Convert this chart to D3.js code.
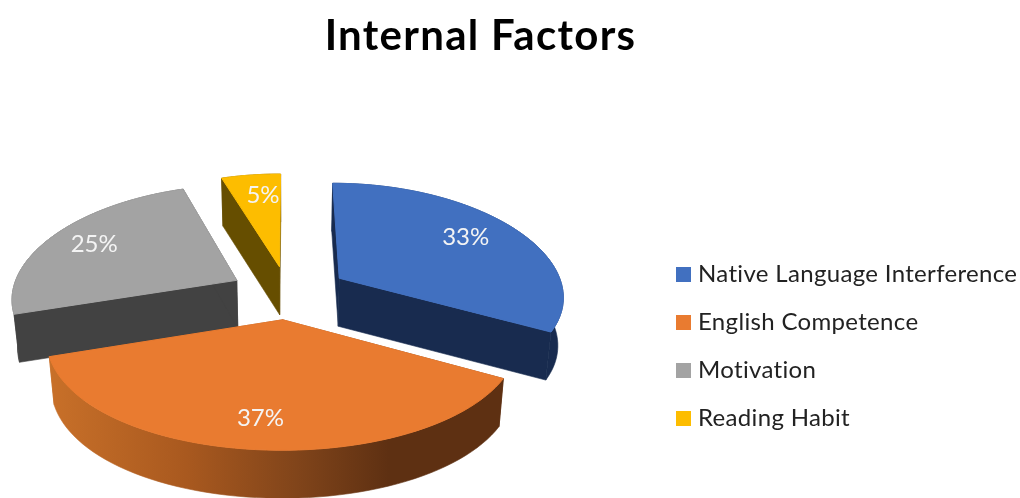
<!DOCTYPE html>
<html>
<head>
<meta charset="utf-8">
<script src="https://cdn.jsdelivr.net/npm/d3@7"></script>
<style>
    html, body { margin: 0; padding: 0; background: #fff; }
    svg { display: block; filter: blur(0.45px); }
    text { font-family: Lato, "Open Sans", sans-serif; }
</style>
</head>
<body>
<div id="chart"></div>
<script>
// Data
const categories = ["Native Language Interference", "English Competence", "Motivation", "Reading Habit"];
const values = [33, 37, 25, 5];
const topColors = ["#4170c0", "#e97b30", "#a3a3a3", "#fdbd00"];
const wallColors = ["#182b4f", "url(#orangeWall)", "#424242", "#664e00"];
const title = "Internal Factors";

const width = 1020, height = 498;

// Fake 3D: pie lies on the ground, x right, y toward the viewer, radius = 1
const centerX = 288, centerY = 293;
const scaleX = 225, scaleY = 109;
const perspX = 0.15, perspY = 0.114;
const depth = 48, depthShrink = 0.98;
const explode = [0.27, 0.24, 0.26, 0.25];
const labelRadius = [0.75, 0.78, 0.78, 0.76];
const labelTurn = [-0.056, 0.01, 0.01, 0.04]; // radians, labels are not quite on the mid line

function project(x, y) {
    return [centerX + scaleX * x / (1 - perspX * y), centerY + scaleY * y / (1 - perspY * y)];
}
function lower(p) { // same point on the underside of the pie
    return [centerX + (p[0] - centerX) * depthShrink, p[1] + depth];
}

const svg = d3.select("#chart").append("svg")
    .attr("width", width)
    .attr("height", height);

const grad = svg.append("defs").append("linearGradient")
    .attr("id", "orangeWall")
    .attr("gradientUnits", "userSpaceOnUse")
    .attr("x1", 50).attr("x2", 502).attr("y1", 0).attr("y2", 0);
[[0, "#c87029"], [0.3, "#a9591f"], [0.55, "#80441a"], [0.75, "#5e3012"], [1, "#5e3012"]].forEach(s => {
    grad.append("stop").attr("offset", s[0]).attr("stop-color", s[1]);
});

svg.append("text")
    .attr("x", 480.5)
    .attr("y", 50)
    .attr("text-anchor", "middle")
    .attr("font-size", 42)
    .attr("font-weight", 700)
    .attr("letter-spacing", 1.3)
    .attr("fill", "#000")
    .text(title);

const slices = d3.pie().sort(null).value(d => d)(values);
const line = d3.line();

slices.forEach((s, i) => {
    const mid = (s.startAngle + s.endAngle) / 2;
    s.offX = explode[i] * Math.sin(mid);
    s.offY = -explode[i] * Math.cos(mid);
    const ground = (a, r) => project(s.offX + r * Math.sin(a), s.offY - r * Math.cos(a));
    s.apex = ground(0, 0);
    s.rim = d3.range(0, 61).map(k => ground(s.startAngle + (s.endAngle - s.startAngle) * k / 60, 1));
    s.label = ground(mid + labelTurn[i], labelRadius[i]);
});

// back to front
const order = [3, 2, 0, 1];
const pie = svg.append("g");

order.forEach(i => {
    const s = slices[i];
    const g = pie.append("g");
    const first = s.rim[0], last = s.rim[s.rim.length - 1];
    const walls = [
        s.rim.concat(s.rim.map(lower).reverse()),
        [s.apex, first, lower(first), lower(s.apex)],
        [s.apex, last, lower(last), lower(s.apex)]
    ];
    g.selectAll("path.wall")
        .data(walls)
        .enter()
        .append("path")
            .attr("class", "wall")
            .attr("d", d => line(d) + "Z")
            .attr("fill", wallColors[i])
            .attr("stroke", wallColors[i]) // hides the seams between wall pieces
            .attr("stroke-width", 0.6);
    g.append("path")
        .attr("d", line([s.apex].concat(s.rim)) + "Z")
        .attr("fill", topColors[i])
        .attr("stroke", topColors[i]) // covers the wall stroke along the back edge
        .attr("stroke-width", 1);
});

svg.append("g")
    .selectAll("text")
    .data(slices)
    .enter()
    .append("text")
        .attr("x", d => d.label[0])
        .attr("y", d => d.label[1])
        .attr("dy", "0.35em")
        .attr("text-anchor", "middle")
        .attr("font-size", 24)
        .attr("fill", "#f4f4f4")
        .text(d => d.value + "%");

// Legend
const legendY = d3.scalePoint().domain(categories).range([274, 418]);
const legend = svg.append("g")
    .selectAll("g")
    .data(categories)
    .enter()
    .append("g")
        .attr("transform", d => `translate(676,${legendY(d)})`);
legend.append("rect")
    .attr("x", 0)
    .attr("y", -7)
    .attr("width", 15)
    .attr("height", 15)
    .attr("fill", (d, i) => topColors[i]);
legend.append("text")
    .attr("x", 22)
    .attr("dy", "0.35em")
    .attr("font-size", 24)
    .attr("letter-spacing", 0.33)
    .attr("fill", "#222")
    .text(d => d);
</script>
</body>
</html>
